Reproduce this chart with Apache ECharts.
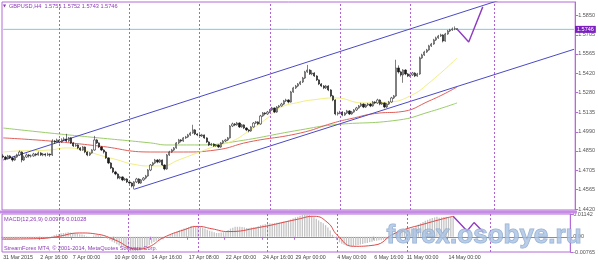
<!DOCTYPE html>
<html><head><meta charset="utf-8">
<script src="https://cdn.jsdelivr.net/npm/echarts@6/dist/echarts.min.js"></script>
<style>html,body{margin:0;padding:0;background:#fff}#c{width:598px;height:265px}</style>
</head><body><div id="c"></div>
<script>
// ---- DATA (GBPUSD H4, 31 Mar 2015 - 14 May 2015) ----
// candles: [open, close, low, high]
const candles = [
[1.4812,1.4804,1.4795,1.4825],[1.4804,1.4790,1.4780,1.4812],[1.4790,1.4812,1.4785,1.4820],[1.4812,1.4797,1.4790,1.4818],[1.4797,1.4782,1.4770,1.4805],[1.4782,1.4804,1.4776,1.4812],
[1.4804,1.4819,1.4798,1.4828],[1.4819,1.4841,1.4812,1.4852],[1.4841,1.4782,1.4765,1.4846],[1.4782,1.4804,1.4775,1.4815],[1.4804,1.4819,1.4798,1.4830],[1.4819,1.4812,1.4800,1.4826],
[1.4812,1.4812,1.4801,1.4822],[1.4812,1.4826,1.4806,1.4835],[1.4826,1.4819,1.4810,1.4832],[1.4819,1.4834,1.4814,1.4845],[1.4834,1.4819,1.4812,1.4840],[1.4819,1.4826,1.4810,1.4834],
[1.4826,1.4819,1.4808,1.4832],[1.4819,1.4826,1.4812,1.4836],[1.4826,1.4819,1.4806,1.4830],[1.4819,1.4922,1.4812,1.4935],[1.4922,1.4915,1.4902,1.4930],[1.4915,1.4930,1.4910,1.4940],
[1.4930,1.4915,1.4905,1.4938],[1.4915,1.4930,1.4908,1.4942],[1.4930,1.4937,1.4922,1.4950],[1.4937,1.4922,1.4915,1.4975],[1.4922,1.4945,1.4916,1.4952],[1.4945,1.4908,1.4900,1.4950],
[1.4908,1.4886,1.4878,1.4915],[1.4886,1.4893,1.4880,1.4902],[1.4893,1.4871,1.4862,1.4898],[1.4871,1.4856,1.4848,1.4878],[1.4856,1.4878,1.4850,1.4885],[1.4878,1.4841,1.4832,1.4882],
[1.4841,1.4819,1.4810,1.4846],[1.4819,1.4834,1.4812,1.4840],[1.4834,1.4856,1.4828,1.4862],[1.4856,1.4930,1.4850,1.4960],[1.4930,1.4908,1.4900,1.4938],[1.4908,1.4878,1.4870,1.4912],
[1.4878,1.4856,1.4848,1.4884],[1.4856,1.4841,1.4830,1.4862],[1.4841,1.4797,1.4790,1.4846],[1.4797,1.4760,1.4752,1.4802],[1.4760,1.4723,1.4715,1.4766],[1.4723,1.4694,1.4685,1.4730],
[1.4694,1.4679,1.4670,1.4702],[1.4679,1.4649,1.4640,1.4684],[1.4649,1.4657,1.4640,1.4665],[1.4657,1.4635,1.4626,1.4662],[1.4635,1.4642,1.4628,1.4650],[1.4642,1.4620,1.4612,1.4648],
[1.4620,1.4612,1.4600,1.4628],[1.4612,1.4590,1.4580,1.4618],[1.4590,1.4620,1.4566,1.4626],[1.4620,1.4642,1.4612,1.4650],[1.4642,1.4612,1.4605,1.4648],[1.4612,1.4635,1.4606,1.4642],
[1.4635,1.4649,1.4628,1.4656],[1.4649,1.4664,1.4640,1.4672],[1.4664,1.4708,1.4658,1.4715],[1.4708,1.4745,1.4700,1.4752],[1.4745,1.4760,1.4738,1.4768],[1.4760,1.4782,1.4752,1.4790],
[1.4782,1.4767,1.4758,1.4788],[1.4767,1.4782,1.4760,1.4790],[1.4782,1.4745,1.4738,1.4786],[1.4745,1.4716,1.4706,1.4750],[1.4716,1.4819,1.4710,1.4826],[1.4819,1.4841,1.4812,1.4850],
[1.4841,1.4856,1.4835,1.4864],[1.4856,1.4871,1.4848,1.4878],[1.4871,1.4908,1.4865,1.4915],[1.4908,1.4930,1.4900,1.4938],[1.4930,1.4922,1.4912,1.4936],[1.4922,1.4945,1.4916,1.4952],
[1.4945,1.4952,1.4938,1.4960],[1.4952,1.4967,1.4945,1.4975],[1.4967,1.4981,1.4960,1.4990],[1.4981,1.5004,1.4975,1.5042],[1.5004,1.4974,1.4966,1.5010],[1.4974,1.4967,1.4958,1.4980],
[1.4967,1.4959,1.4950,1.4972],[1.4959,1.4967,1.4952,1.4975],[1.4967,1.4945,1.4938,1.4970],[1.4945,1.4915,1.4908,1.4950],[1.4915,1.4893,1.4885,1.4920],[1.4893,1.4900,1.4886,1.4908],
[1.4900,1.4886,1.4878,1.4906],[1.4886,1.4893,1.4880,1.4900],[1.4893,1.4878,1.4870,1.4898],[1.4878,1.4908,1.4872,1.4915],[1.4908,1.4922,1.4900,1.4930],[1.4922,1.4930,1.4915,1.4938],
[1.4930,1.4945,1.4922,1.4952],[1.4945,1.5033,1.4940,1.5040],[1.5033,1.5048,1.5025,1.5058],[1.5048,1.5041,1.5032,1.5055],[1.5041,1.5055,1.5035,1.5063],[1.5055,1.5026,1.5018,1.5060],
[1.5026,1.5041,1.5020,1.5048],[1.5041,1.5018,1.5010,1.5046],[1.5018,1.5004,1.4995,1.5024],[1.5004,1.4996,1.4986,1.5010],[1.4996,1.5026,1.4990,1.5032],[1.5026,1.5055,1.5020,1.5062],
[1.5055,1.5063,1.5048,1.5070],[1.5063,1.5048,1.5040,1.5068],[1.5048,1.5107,1.5042,1.5115],[1.5107,1.5129,1.5100,1.5136],[1.5129,1.5122,1.5112,1.5135],[1.5122,1.5136,1.5115,1.5144],
[1.5136,1.5151,1.5128,1.5158],[1.5151,1.5166,1.5145,1.5174],[1.5166,1.5136,1.5128,1.5170],[1.5136,1.5173,1.5130,1.5180],[1.5173,1.5181,1.5165,1.5188],[1.5181,1.5195,1.5175,1.5204],
[1.5195,1.5218,1.5188,1.5225],[1.5218,1.5225,1.5210,1.5234],[1.5225,1.5210,1.5200,1.5230],[1.5210,1.5284,1.5205,1.5292],[1.5284,1.5314,1.5278,1.5322],[1.5314,1.5328,1.5306,1.5336],
[1.5328,1.5343,1.5320,1.5350],[1.5343,1.5358,1.5335,1.5366],[1.5358,1.5387,1.5350,1.5395],[1.5387,1.5432,1.5380,1.5440],[1.5432,1.5446,1.5425,1.5484],[1.5446,1.5417,1.5410,1.5452],
[1.5417,1.5424,1.5408,1.5445],[1.5424,1.5402,1.5395,1.5430],[1.5402,1.5373,1.5365,1.5408],[1.5373,1.5343,1.5335,1.5378],[1.5343,1.5328,1.5320,1.5350],[1.5328,1.5314,1.5305,1.5335],
[1.5314,1.5328,1.5306,1.5336],[1.5328,1.5299,1.5290,1.5334],[1.5299,1.5255,1.5246,1.5305],[1.5255,1.5225,1.5216,1.5262],[1.5225,1.5122,1.5112,1.5230],[1.5122,1.5129,1.5110,1.5138],
[1.5129,1.5136,1.5120,1.5145],[1.5136,1.5114,1.5105,1.5142],[1.5114,1.5129,1.5108,1.5136],[1.5129,1.5144,1.5122,1.5152],[1.5144,1.5122,1.5114,1.5150],[1.5122,1.5136,1.5116,1.5144],
[1.5136,1.5151,1.5130,1.5158],[1.5151,1.5166,1.5144,1.5174],[1.5166,1.5181,1.5160,1.5188],[1.5181,1.5195,1.5174,1.5204],[1.5195,1.5173,1.5165,1.5200],[1.5173,1.5188,1.5166,1.5196],
[1.5188,1.5195,1.5180,1.5203],[1.5195,1.5181,1.5172,1.5202],[1.5181,1.5210,1.5175,1.5218],[1.5210,1.5203,1.5194,1.5216],[1.5203,1.5225,1.5196,1.5234],[1.5225,1.5195,1.5186,1.5230],
[1.5195,1.5203,1.5188,1.5212],[1.5203,1.5173,1.5164,1.5208],[1.5173,1.5195,1.5166,1.5202],[1.5195,1.5210,1.5188,1.5218],[1.5210,1.5240,1.5204,1.5248],[1.5240,1.5255,1.5232,1.5262],
[1.5255,1.5461,1.5248,1.5522],[1.5461,1.5432,1.5420,1.5480],[1.5432,1.5410,1.5398,1.5440],[1.5410,1.5446,1.5352,1.5452],[1.5446,1.5417,1.5408,1.5452],[1.5417,1.5402,1.5394,1.5424],
[1.5402,1.5410,1.5395,1.5418],[1.5410,1.5424,1.5402,1.5432],[1.5424,1.5402,1.5394,1.5430],[1.5402,1.5417,1.5396,1.5425],[1.5417,1.5535,1.5410,1.5545],[1.5535,1.5557,1.5528,1.5566],
[1.5557,1.5579,1.5550,1.5588],[1.5579,1.5594,1.5572,1.5602],[1.5594,1.5624,1.5588,1.5632],[1.5624,1.5638,1.5616,1.5646],[1.5638,1.5668,1.5632,1.5676],[1.5668,1.5683,1.5660,1.5692],
[1.5683,1.5697,1.5676,1.5705],[1.5697,1.5705,1.5690,1.5714],[1.5705,1.5660,1.5650,1.5710],[1.5660,1.5712,1.5655,1.5720],[1.5712,1.5734,1.5706,1.5742],[1.5734,1.5742,1.5726,1.5750],
[1.5742,1.5749,1.5735,1.5760],[1.5749,1.5751,1.5740,1.5768],[1.5751,1.5746,1.5743,1.5752]
];
// moving averages, read at sparse bars: [barIndex, price]
const maYellow = [[0,1.4841],[7,1.4849],[20,1.4856],[27,1.4871],[34,1.4856],[41,1.4819],[49,1.4782],[55,1.4753],[63,1.4738],[68,1.4738],[75,1.4782],[84,1.4841],[91,1.4886],[98,1.4922],[105,1.4996],[113,1.5092],[118,1.5166],[127,1.5210],[132,1.5225],[142,1.5240],[154,1.5203],[165,1.5210],[174,1.5255],[182,1.5350],[194,1.5535]];
const maRed = [[0,1.4945],[20,1.4922],[41,1.4885],[63,1.4841],[77,1.4841],[91,1.4856],[105,1.4915],[127,1.4981],[141,1.5055],[148,1.5085],[161,1.5129],[169,1.5136],[183,1.5225],[194,1.5321]];
const maGreen = [[0,1.5018],[20,1.4981],[41,1.4945],[63,1.4908],[70,1.4893],[84,1.4893],[98,1.4915],[127,1.5004],[141,1.5041],[169,1.5077],[182,1.5136],[194,1.5203]];
// trend channel and projection: [barIndex, price]
const channelUpper = [[0,1.4782],[216,1.5983]];
const channelLower = [[56,1.4566],[244,1.5599]];
const projection = [[194,1.5749],[199,1.5653],[205,1.5912]];
const lastPrice = 1.5746;
const priceLine = [[0,lastPrice],[244,lastPrice]];
// MACD(12,26,9) main (histogram) per bar
const macdMain = [
-0.0012,-0.0013,-0.0012,-0.0012,-0.0013,-0.0012,-0.0011,-0.0009,-0.0010,-0.0010,-0.0009,-0.0008,-0.0008,-0.0007,-0.0007,-0.0006,-0.0006,-0.0005,-0.0005,-0.0004,-0.0004,
0.0004,0.0008,0.0012,
0.0014,0.0017,0.0019,0.0020,0.0022,0.0021,
0.0019,0.0018,0.0015,0.0012,0.0011,0.0007,
0.0003,0.0001,0.0000,0.0006,0.0008,0.0007,
0.0004,0.0001,-0.0004,-0.0010,-0.0017,-0.0024,
-0.0030,-0.0038,-0.0044,-0.0050,-0.0055,-0.0060,
-0.0065,-0.0072,-0.0076,-0.0074,-0.0072,-0.0069,
-0.0064,-0.0058,-0.0050,-0.0042,-0.0034,-0.0026,
-0.0020,-0.0015,-0.0013,-0.0013,-0.0006,0.0001,
0.0008,0.0014,0.0021,0.0027,0.0032,0.0037,
0.0041,0.0045,0.0049,0.0054,0.0055,0.0054,
0.0052,0.0050,0.0046,0.0041,0.0035,0.0030,
0.0026,0.0022,0.0019,0.0019,0.0021,0.0023,
0.0026,0.0034,0.0041,0.0045,0.0050,0.0050,
0.0050,0.0049,0.0047,0.0044,0.0044,0.0046,
0.0048,0.0048,0.0053,0.0058,0.0060,0.0063,
0.0066,0.0068,0.0067,0.0069,0.0070,0.0072,
0.0074,0.0076,0.0075,0.0081,0.0087,0.0092,
0.0097,0.0101,0.0105,0.0110,0.0114,0.0112,
0.0109,0.0105,0.0098,0.0090,0.0082,0.0074,
0.0068,0.0058,0.0046,0.0032,0.0010,-0.0006,
-0.0018,-0.0028,-0.0035,-0.0040,-0.0044,-0.0047,
-0.0047,-0.0046,-0.0044,-0.0041,-0.0039,-0.0036,
-0.0033,-0.0031,-0.0027,-0.0025,-0.0021,-0.0020,
-0.0018,-0.0018,-0.0016,-0.0013,-0.0009,-0.0005,
0.0012,0.0022,0.0028,0.0034,0.0037,0.0039,
0.0041,0.0042,0.0042,0.0043,0.0053,0.0061,
0.0068,0.0074,0.0080,0.0085,0.0090,0.0094,
0.0097,0.0100,0.0096,0.0097,0.0099,0.0101,
0.0100,0.0099,0.00976
];
// MACD signal line read at sparse bars: [barIndex, value]
const macdSignal = [[0,-0.0012],[16,-0.0009],[23,0.0000],[33,0.0019],[41,0.0012],[48,-0.0015],[58,-0.0062],[63,-0.0050],[69,-0.0005],[78,0.0035],[84,0.0052],[90,0.0040],[97,0.0026],[110,0.0046],[127,0.0088],[134,0.0103],[140,0.0070],[144,0.0009],[151,-0.0048],[160,-0.0042],[169,0.0018],[183,0.0069],[194,0.01028]];
const macdProjection = [[194,0.0103],[200,0.0029],[203,0.0071],[207,0.0024]];
// axis ticks
const priceTicks = [1.5850,1.5705,1.5565,1.5420,1.5280,1.5135,1.4990,1.4850,1.4705,1.4565,1.4420];
const macdTicks = [0.01142,0,-0.00765];
const macdTickLabels = ['0.01142','0.00','-0.00765'];
const tickIndex = [0,16,30,48,64,80,96,112,126,144,160,174,192];
const tickLabels = ['31 Mar 2015','2 Apr 16:00','7 Apr 00:00','10 Apr 00:00','14 Apr 16:00','17 Apr 08:00','22 Apr 00:00','24 Apr 16:00','29 Apr 00:00','4 May 00:00','6 May 16:00','11 May 00:00','14 May 00:00'];
const separators = [24,54,84,114,144,174,210];
const slotCount = 245;

// ---- CHART ----
const cats = Array.from({length: slotCount}, (_, i) => String(i));
const PURPLE = '#b46ad8', TXT = '#8a3cb4', FONT = 'Liberation Sans';
const sepLine = {
  silent: true, symbol: 'none', label: {show: false},
  lineStyle: {color: '#b060d0', type: [2, 2], width: 1},
  data: separators.map(s => ({xAxis: s}))
};
const chart = echarts.init(document.getElementById('c'), null, {renderer: 'canvas'});
chart.setOption({
  animation: false,
  backgroundColor: '#ffffff',
  grid: [
    {left: 2, top: 2, width: 574, height: 208, show: true, borderColor: PURPLE, borderWidth: 1},
    {left: 2, top: 214, width: 574, height: 38, show: true, borderColor: PURPLE, borderWidth: 1}
  ],
  xAxis: [
    {type: 'category', gridIndex: 0, data: cats, boundaryGap: true, show: false},
    {type: 'category', gridIndex: 1, data: cats, boundaryGap: true,
      axisLine: {show: true, lineStyle: {color: PURPLE}},
      axisTick: {show: true, length: 3, interval: (i) => tickIndex.includes(i), lineStyle: {color: PURPLE}},
      axisLabel: {show: true, interval: (i) => tickIndex.includes(i), align: 'left', margin: 3, hideOverlap: false,
        fontFamily: FONT, fontSize: 5.3, color: '#444',
        formatter: (v, i) => { const k = tickIndex.indexOf(i); return k >= 0 ? tickLabels[k] : ''; }},
      splitLine: {show: false}}
  ],
  yAxis: [
    {type: 'value', gridIndex: 0, position: 'right', min: 1.4413, max: 1.5948,
      axisLine: {show: true, lineStyle: {color: PURPLE}},
      axisTick: {show: true, length: 3, customValues: priceTicks, lineStyle: {color: PURPLE}},
      axisLabel: {show: true, customValues: priceTicks, margin: 3, fontFamily: FONT, fontSize: 5.5, color: '#555',
        formatter: v => v.toFixed(4)},
      splitLine: {show: false}},
    {type: 'value', gridIndex: 1, position: 'right', min: -0.00765, max: 0.01142,
      axisLine: {show: true, lineStyle: {color: PURPLE}},
      axisTick: {show: true, length: 3, customValues: macdTicks, lineStyle: {color: PURPLE}},
      axisLabel: {show: true, customValues: macdTicks, margin: 3, fontFamily: FONT, fontSize: 5.5, color: '#555',
        formatter: v => { const k = macdTicks.findIndex(t => Math.abs(t - v) < 1e-9); return k >= 0 ? macdTickLabels[k] : ''; }},
      splitLine: {show: false}}
  ],
  series: [
    {type: 'line', xAxisIndex: 0, yAxisIndex: 0, data: maGreen, smooth: true, symbol: 'none',
      lineStyle: {color: '#9ccc6a', width: 1}, markLine: sepLine, z: 2},
    {type: 'line', xAxisIndex: 0, yAxisIndex: 0, data: maRed, smooth: true, symbol: 'none',
      lineStyle: {color: '#e0605a', width: 1}, z: 2},
    {type: 'line', xAxisIndex: 0, yAxisIndex: 0, data: maYellow, smooth: true, symbol: 'none',
      lineStyle: {color: '#f2ee80', width: 1}, z: 2},
    {type: 'line', xAxisIndex: 0, yAxisIndex: 0, data: priceLine, symbol: 'none', silent: true,
      lineStyle: {color: '#78cde0', width: 1}, z: 3,
      endLabel: {show: true, distance: 1, formatter: lastPrice.toFixed(4),
        color: '#ffffff', backgroundColor: '#7d1fc0', padding: [1, 2, 0, 2], fontFamily: FONT, fontSize: 5.5}},
    {type: 'line', xAxisIndex: 0, yAxisIndex: 0, data: channelUpper, symbol: 'none', clip: true,
      lineStyle: {color: '#4a4ac4', width: 1}, z: 3},
    {type: 'line', xAxisIndex: 0, yAxisIndex: 0, data: channelLower, symbol: 'none', clip: true,
      lineStyle: {color: '#4a4ac4', width: 1}, z: 3},
    {type: 'candlestick', xAxisIndex: 0, yAxisIndex: 0, data: candles, barWidth: 1.7, z: 4,
      itemStyle: {color: '#ffffff', color0: '#1a1a1a', borderColor: '#2a2a2a', borderColor0: '#1a1a1a', borderWidth: 0.6}},
    {type: 'line', xAxisIndex: 0, yAxisIndex: 0, data: projection, symbol: 'none',
      lineStyle: {color: '#8f3cc0', width: 1.4}, z: 5},
    {type: 'bar', xAxisIndex: 1, yAxisIndex: 1, data: macdMain, barWidth: 1.3,
      itemStyle: {color: '#c4c4c4'}, markLine: sepLine, z: 2},
    {type: 'line', xAxisIndex: 1, yAxisIndex: 1, data: macdSignal, smooth: true, symbol: 'none',
      lineStyle: {color: '#e04848', width: 1}, z: 3},
    {type: 'line', xAxisIndex: 1, yAxisIndex: 1, data: macdProjection, symbol: 'none',
      lineStyle: {color: '#8f3cc0', width: 1.4}, z: 5}
  ],
  graphic: [
    {type: 'rect', shape: {x: 0, y: 210.5, width: 577, height: 3}, style: {fill: '#c58ce6'}, z: 10},
    {type: 'text', left: 3, top: 4, style: {text: '▼', font: '4px "DejaVu Sans"', fill: TXT}, z: 10},
    {type: 'text', left: 9, top: 3, style: {text: 'GBPUSD,H4  1.5751 1.5752 1.5743 1.5746', font: '5.6px "Liberation Sans"', fill: TXT}, z: 10},
    {type: 'text', left: 4, top: 216, style: {text: 'MACD(12,26,9) 0.00976 0.01028', font: '5.6px "Liberation Sans"', fill: TXT}, z: 10},
    {type: 'text', left: 4, top: 245, style: {text: 'StreamForex MT4, © 2001-2014, MetaQuotes Software Corp.', font: '5.6px "Liberation Sans"', fill: TXT}, z: 10},
    {type: 'text', left: 386, top: 222, z: 20, style: {text: 'forex.osobye.ru', font: 'bold 26px "Liberation Sans"',
      fill: '#a9c2e2', stroke: '#7f9ec6', lineWidth: 1, opacity: 0.8}}
  ]
});
</script></body></html>
